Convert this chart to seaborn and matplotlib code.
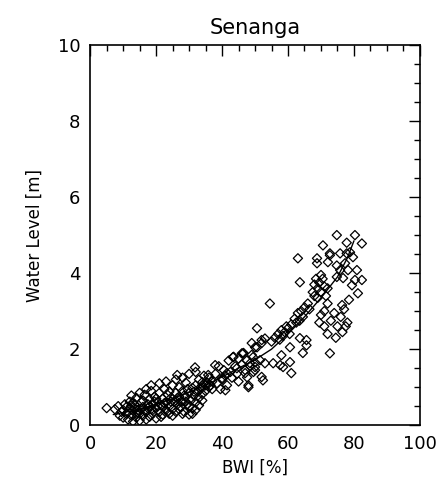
import numpy as np
import pandas as pd
import matplotlib
matplotlib.use("Agg")
import matplotlib.pyplot as plt
import seaborn as sns
from matplotlib.ticker import MultipleLocator

# scatter points (BWI %, water level m)
bwi = [
    5.0, 7.5, 8.5, 9.5, 10.0, 10.5, 11.0, 11.5, 12.0, 12.0, 12.5, 13.0, 13.0, 13.5, 14.0, 14.0,
    14.5, 15.0, 15.0, 15.5, 16.0, 16.0, 16.5, 17.0, 17.0, 17.5, 18.0, 18.0, 18.5, 18.5, 19.0, 19.0,
    19.5, 20.0, 20.0, 20.5, 21.0, 21.0, 21.5, 22.0, 22.0, 22.5, 23.0, 23.0, 23.5, 24.0, 24.0, 24.5,
    25.0, 25.0, 25.5, 26.0, 26.0, 26.5, 27.0, 27.0, 27.5, 28.0, 28.0, 28.5, 29.0, 29.0, 29.5, 30.0,
    30.0, 30.5, 31.0, 31.0, 31.5, 32.0, 32.0, 32.5, 33.0, 33.0, 33.5, 34.0, 34.0, 34.5, 35.0, 35.5,
    36.0, 36.0, 37.0,
    11.0, 13.0, 14.5, 16.0, 17.5, 19.0, 20.0, 21.5, 22.0, 23.5, 24.0, 25.0, 26.0, 27.0, 28.0, 28.5,
    29.5, 30.0, 31.0, 32.0, 33.0, 34.0, 12.5, 15.0, 17.0, 18.5, 21.0, 23.0, 26.0, 28.0, 30.0, 32.0,
    26.4, 31.8, 35.8, 37.9, 34.0,
    37.0, 38.0, 38.5, 39.0, 39.5, 40.0, 40.5, 41.0, 41.5, 42.0, 42.5, 43.0, 43.5, 44.0, 44.5, 45.0,
    45.0, 46.0, 46.5, 47.0, 47.5, 48.0, 48.5, 49.0, 49.5, 50.0, 50.0,
    43.3, 46.0, 44.5, 41.5, 40.0, 49.0, 52.0, 50.0, 47.6, 41.0, 50.6,
    46.4, 50.6, 53.0, 49.4, 51.5, 48.5, 47.0, 52.0, 55.5, 58.5, 65.6, 63.6,
    48.0, 52.4, 50.0, 61.0, 60.6, 58.0, 64.5, 65.6, 72.7, 53.0, 57.6, 52.0, 60.6, 54.5,
    55.0, 56.0, 57.0, 57.5, 58.0, 59.0, 59.5, 60.0, 61.0, 62.0, 62.5, 63.0, 64.0, 64.5, 65.0, 66.0,
    66.5, 58.5, 60.5, 63.5,
    63.0, 63.6, 68.8, 72.7,
    67.5, 68.0, 68.5, 69.0, 69.5, 70.0, 70.5, 71.0, 71.5, 69.0, 70.0, 68.0, 72.0,
    70.0, 71.0, 72.0, 73.0, 74.0, 75.0, 76.0, 77.0, 78.0, 74.5, 76.5, 72.0, 69.5, 71.0, 78.5, 77.5,
    76.4,
    80.3, 74.8, 77.8, 82.4, 75.8, 78.8, 72.7, 70.6, 72.1, 77.3, 79.7, 74.8, 78.2, 80.9, 76.7, 80.3,
    82.4, 79.4, 81.2, 68.8, 74.8, 75.8, 77.8,
    # extra points filling the dense low band
    9.0, 10.0, 11.5, 12.5, 13.5, 14.0, 15.5, 16.5, 18.0, 19.5, 20.5, 22.5, 24.5, 26.5, 27.5, 29.0,
    31.5, 33.5, 35.0, 36.5,
]
level = [
    0.45, 0.42, 0.50, 0.35, 0.20, 0.55, 0.30, 0.15, 0.45, 0.62, 0.25, 0.10, 0.38, 0.55, 0.20, 0.72,
    0.40, 0.12, 0.30, 0.60, 0.25, 0.48, 0.80, 0.15, 0.35, 0.55, 0.22, 0.68, 0.42, 0.90, 0.30, 0.55,
    0.75, 0.18, 0.45, 0.62, 0.35, 0.85, 0.52, 0.28, 0.70, 0.95, 0.40, 0.60, 0.80, 0.30, 0.50, 0.72,
    0.42, 1.05, 0.62, 0.35, 0.85, 0.55, 0.75, 1.00, 0.48, 0.62, 0.90, 0.35, 0.75, 1.12, 0.55, 0.28,
    0.85, 0.65, 0.98, 0.45, 0.78, 1.05, 0.60, 0.88, 0.72, 1.20, 0.95, 0.82, 1.05, 1.30, 0.90, 1.12,
    1.00, 1.25, 1.15,
    0.48, 0.60, 0.32, 0.65, 0.45, 0.40, 0.70, 0.22, 0.50, 0.35, 0.88, 0.25, 0.65, 0.42, 0.30, 0.78,
    0.95, 0.50, 0.30, 0.40, 0.52, 0.65, 0.78, 0.85, 0.95, 1.05, 1.10, 1.15, 1.20, 1.25, 1.35, 1.40,
    1.32, 1.52, 1.32, 1.58, 1.13,
    0.95, 1.35, 1.10, 1.55, 0.95, 1.20, 1.45, 1.30, 1.05, 1.70, 1.40, 1.25, 1.80, 1.55, 1.35, 1.75,
    1.15, 1.60, 1.90, 1.45, 1.70, 1.00, 1.55, 1.85, 1.40, 1.65, 2.05,
    1.79, 1.89, 1.50, 1.37, 1.24, 2.16, 2.16, 1.45, 1.26, 0.92, 2.55,
    1.89, 2.05, 2.28, 1.79, 1.71, 1.63, 1.37, 1.27, 1.63, 1.53, 2.24, 2.29,
    1.05, 1.18, 1.53, 1.37, 1.66, 1.84, 1.90, 2.10, 1.89, 1.63, 1.58, 2.24, 2.05, 3.20,
    2.20, 2.30, 2.40, 2.25, 2.50, 2.45, 2.60, 2.55, 2.65, 2.80, 2.70, 2.95, 3.00, 2.85, 3.10, 3.20,
    3.05, 2.35, 2.40, 2.75,
    4.39, 3.76, 4.39, 4.47,
    3.50, 3.70, 3.85, 3.60, 3.75, 3.50, 3.85, 3.65, 3.40, 3.35, 3.95, 3.40, 3.60,
    2.90, 2.60, 2.40, 2.75, 2.95, 2.60, 2.85, 3.05, 2.70, 2.30, 2.45, 3.20, 2.70, 3.00, 3.30, 2.60,
    3.16,
    5.00, 5.00, 4.80, 4.78, 4.52, 4.55, 4.52, 4.73, 4.29, 4.26, 4.42, 4.20, 4.08, 4.08, 3.87, 3.82,
    3.82, 3.68, 3.47, 4.26, 3.90, 4.08, 4.52,
    0.25, 0.40, 0.35, 0.52, 0.45, 0.30, 0.42, 0.38, 0.50, 0.62, 0.50, 0.58, 0.62, 0.72, 0.62, 0.62,
    0.88, 1.00, 1.05, 1.05,
]

# fitted curve
fit_bwi = [7, 15, 20, 25, 30, 35, 40, 45, 50, 55, 60, 65, 70, 75, 78, 80]
fit_level = [0.28, 0.42, 0.55, 0.70, 0.87, 1.05, 1.27, 1.50, 1.72, 2.00, 2.40, 2.85, 3.35, 3.90, 4.40, 4.85]

df = pd.DataFrame({"bwi": bwi, "level": level})
fit = pd.DataFrame({"bwi": fit_bwi, "level": fit_level})

sns.set_style("white")
plt.rcParams["font.family"] = ["DejaVu Sans"]
plt.rcParams["text.color"] = "black"
plt.rcParams["axes.labelcolor"] = "black"

fig = plt.figure(figsize=(4.42, 4.95), dpi=100)
ax = fig.add_axes([0.204, 0.141, 0.746, 0.768])

sns.scatterplot(data=df, x="bwi", y="level", ax=ax, marker="D", s=22,
                facecolors="none", edgecolor="black", linewidth=0.9, legend=False)
sns.lineplot(data=fit, x="bwi", y="level", ax=ax, color="black", lw=1.0, sort=False)

ax.set_xlim(0, 100)
ax.set_ylim(0, 10)
ax.xaxis.set_major_locator(MultipleLocator(20))
ax.xaxis.set_minor_locator(MultipleLocator(5))
ax.yaxis.set_major_locator(MultipleLocator(2))
ax.yaxis.set_minor_locator(MultipleLocator(0.5))
ax.tick_params(which="both", direction="in", top=True, right=True, colors="black",
               labelsize=13, width=1)
ax.tick_params(which="major", length=8, pad=7)
ax.tick_params(which="minor", length=4)
for sp in ax.spines.values():
    sp.set_color("black")
    sp.set_linewidth(1.2)

ax.set_title("Senanga", fontsize=15, pad=8, color="black")
ax.set_xlabel("BWI [%]", fontsize=12, labelpad=4, color="black")
ax.set_ylabel("Water Level [m]", fontsize=12, labelpad=10, color="black")

plt.savefig("out.png", dpi=100)
plt.close()
